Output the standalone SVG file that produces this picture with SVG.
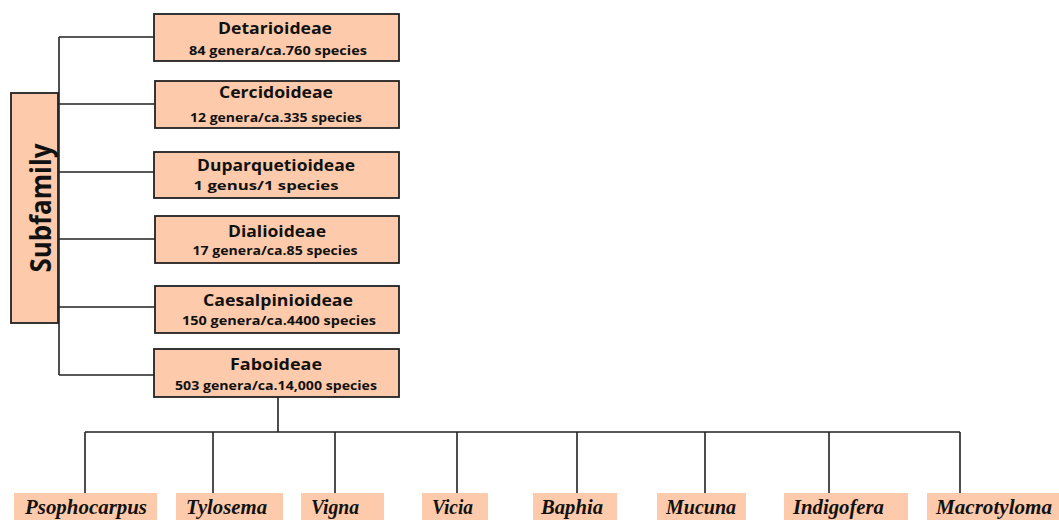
<svg xmlns="http://www.w3.org/2000/svg" width="1059" height="520" viewBox="0 0 1059 520">
<style>
.box{fill:#fdcbab;stroke:#222;stroke-width:1.8}
.leaf{fill:#fdcbab;stroke:none}
.line{stroke:#222;stroke-width:1.6;fill:none}
.t{font-family:"Open Sans","Noto Sans",sans-serif;font-weight:bold;fill:#111;text-anchor:middle}
.title{font-size:15.5px}
.sub{font-size:12.5px}
.sf{font-family:"Open Sans","Noto Sans",sans-serif;font-weight:bold;font-size:28px;fill:#111;text-anchor:middle}
.g{font-family:"Liberation Serif","Times New Roman",serif;font-weight:bold;font-style:italic;font-size:20px;fill:#111}
</style>
<rect width="1059" height="520" fill="#fff"/>
<g id="connectors">
<path class="line" d="M59 37 V375 M59 37 H154 M59 104 H155 M59 172 H154 M59 239 H155 M59 307 H155 M59 375 H154"/>
<path class="line" d="M278 397 V432 M85 432 H960 M85 432 V493 M213 432 V493 M335 432 V493 M457 432 V493 M577 432 V493 M705 432 V493 M829 432 V493 M960 432 V493"/>
</g>
<g id="subfamily">
<rect class="box" x="11" y="93" width="47" height="230"/>
<text class="sf" transform="translate(51 208) rotate(-90)" textLength="129" lengthAdjust="spacingAndGlyphs">Subfamily</text>
</g>
<g id="detarioideae">
<rect class="box" x="154" y="14" width="245" height="47"/>
<text class="t title" x="275" y="34" textLength="114" lengthAdjust="spacingAndGlyphs">Detarioideae</text>
<text class="t sub" x="278" y="55" textLength="178" lengthAdjust="spacingAndGlyphs">84 genera/ca.760 species</text>
</g>
<g id="cercidoideae">
<rect class="box" x="155" y="81" width="244" height="47"/>
<text class="t title" x="276" y="98" textLength="114" lengthAdjust="spacingAndGlyphs">Cercidoideae</text>
<text class="t sub" x="276" y="122" textLength="172" lengthAdjust="spacingAndGlyphs">12 genera/ca.335 species</text>
</g>
<g id="duparquetioideae">
<rect class="box" x="154" y="152" width="245" height="46"/>
<text class="t title" x="276" y="171" textLength="158" lengthAdjust="spacingAndGlyphs">Duparquetioideae</text>
<text class="t sub" x="266" y="190" textLength="145" lengthAdjust="spacingAndGlyphs">1 genus/1 species</text>
</g>
<g id="dialioideae">
<rect class="box" x="155" y="216" width="244" height="47"/>
<text class="t title" x="277" y="237" textLength="98" lengthAdjust="spacingAndGlyphs">Dialioideae</text>
<text class="t sub" x="275" y="255" textLength="165" lengthAdjust="spacingAndGlyphs">17 genera/ca.85 species</text>
</g>
<g id="caesalpinioideae">
<rect class="box" x="155" y="286" width="244" height="47"/>
<text class="t title" x="278" y="306" textLength="150" lengthAdjust="spacingAndGlyphs">Caesalpinioideae</text>
<text class="t sub" x="279" y="325" textLength="194" lengthAdjust="spacingAndGlyphs">150 genera/ca.4400 species</text>
</g>
<g id="faboideae">
<rect class="box" x="154" y="349" width="245" height="48"/>
<text class="t title" x="276" y="370" textLength="92" lengthAdjust="spacingAndGlyphs">Faboideae</text>
<text class="t sub" x="276" y="390" textLength="202" lengthAdjust="spacingAndGlyphs">503 genera/ca.14,000 species</text>
</g>
<g id="psophocarpus"><rect class="leaf" x="14" y="493" width="143" height="30"/><text class="g" x="25" y="514" textLength="122" lengthAdjust="spacingAndGlyphs">Psophocarpus</text></g>
<g id="tylosema"><rect class="leaf" x="176" y="493" width="107" height="30"/><text class="g" x="186" y="514" textLength="81" lengthAdjust="spacingAndGlyphs">Tylosema</text></g>
<g id="vigna"><rect class="leaf" x="301" y="493" width="83" height="30"/><text class="g" x="311" y="514" textLength="48" lengthAdjust="spacingAndGlyphs">Vigna</text></g>
<g id="vicia"><rect class="leaf" x="422" y="493" width="66" height="30"/><text class="g" x="432" y="514" textLength="41" lengthAdjust="spacingAndGlyphs">Vicia</text></g>
<g id="baphia"><rect class="leaf" x="533" y="493" width="84" height="30"/><text class="g" x="541" y="514" textLength="62" lengthAdjust="spacingAndGlyphs">Baphia</text></g>
<g id="mucuna"><rect class="leaf" x="657" y="493" width="89" height="30"/><text class="g" x="666" y="514" textLength="70" lengthAdjust="spacingAndGlyphs">Mucuna</text></g>
<g id="indigofera"><rect class="leaf" x="784" y="493" width="124" height="30"/><text class="g" x="793" y="514" textLength="91" lengthAdjust="spacingAndGlyphs">Indigofera</text></g>
<g id="macrotyloma"><rect class="leaf" x="927" y="493" width="132" height="30"/><text class="g" x="936" y="514" textLength="116" lengthAdjust="spacingAndGlyphs">Macrotyloma</text></g>
</svg>
